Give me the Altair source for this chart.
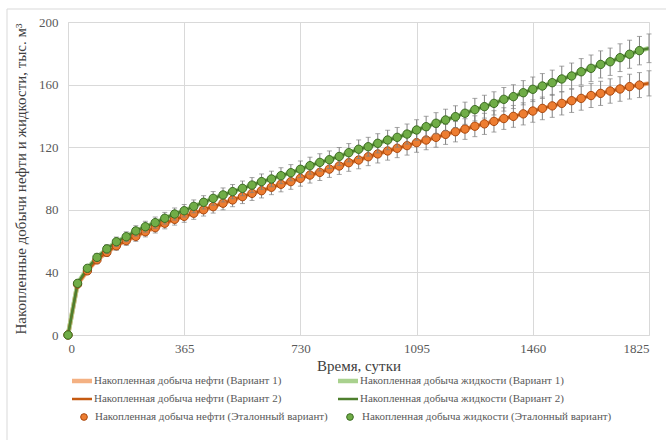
import altair as alt
import pandas as pd

# ---- data ----
days = [0, 30, 61, 91, 122, 152, 183, 213, 243, 274, 304, 335, 365, 395, 426, 456,
        487, 517, 548, 578, 608, 639, 669, 700, 730, 760, 791, 821, 852, 882, 913,
        943, 973, 1004, 1034, 1065, 1095, 1125, 1156, 1186, 1217, 1247, 1278, 1308,
        1338, 1369, 1399, 1430, 1460, 1490, 1521, 1551, 1582, 1612, 1643, 1673, 1703,
        1734, 1764, 1795, 1825]

oil = [0, 32.5, 41.0, 48.0, 52.8, 57.0, 60.3, 63.0, 66.0, 68.6, 71.4, 73.9, 75.8,
       77.8, 80.0, 82.0, 84.2, 86.3, 88.4, 90.5, 92.2, 94.4, 96.3, 98.0, 100.1,
       102.2, 103.9, 106.0, 108.0, 110.1, 111.8, 113.9, 115.7, 117.6, 119.3, 121.0,
       122.9, 124.6, 126.3, 128.2, 129.9, 131.6, 133.4, 134.9, 136.5, 138.3, 139.7,
       141.3, 143.1, 144.8, 146.4, 148.0, 149.7, 151.2, 153.0, 154.4, 155.9, 157.2,
       158.7, 159.7, 160.8]

liq = [0, 33.0, 42.6, 49.6, 55.0, 59.6, 62.8, 66.5, 69.2, 71.8, 74.6, 77.3, 79.4,
       82.2, 84.8, 87.3, 89.5, 91.6, 93.7, 95.8, 98.0, 99.7, 101.8, 103.7, 105.9,
       108.2, 110.3, 112.0, 114.1, 116.5, 118.7, 120.3, 122.5, 124.6, 126.3, 128.4,
       131.0, 133.1, 135.3, 137.4, 139.5, 141.7, 144.0, 145.9, 148.0, 150.6, 152.3,
       154.8, 157.0, 159.1, 161.2, 163.6, 165.5, 168.2, 170.4, 172.9, 174.6, 177.2,
       179.4, 181.7, 183.2]

err_pct = 5  # percentage error bars

x_ticks = [0, 365, 730, 1095, 1460, 1825]
y_ticks = [0, 40, 80, 120, 160, 200]

legend_labels = [
    "Накопленная добыча нефти (Вариант 1)",
    "Накопленная добыча жидкости (Вариант 1)",
    "Накопленная добыча нефти (Вариант 2)",
    "Накопленная добыча жидкости (Вариант 2)",
    "Накопленная добыча нефти (Эталонный вариант)",
    "Накопленная добыча жидкости (Эталонный вариант)",
]

x_title = "Время, сутки"
y_title = "Накопленные добычи нефти и жидкости, тыс. м³"

# ---- styles ----
C_OIL1 = "#F4B183"
C_LIQ1 = "#A9D18E"
C_OIL2 = "#C55A11"
C_LIQ2 = "#4E7F2E"
C_OIL_M = "#ED7D31"
C_OIL_E = "#A9480F"
C_LIQ_M = "#70AD47"
C_LIQ_E = "#3B6B22"
C_ERR = "#808080"
FONT = "Times New Roman, Liberation Serif, DejaVu Serif, serif"

df = pd.DataFrame({"day": days, "oil": oil, "liq": liq})
df["oil_lo"] = df["oil"] * (1 - err_pct / 100)
df["oil_hi"] = df["oil"] * (1 + err_pct / 100)
df["liq_lo"] = df["liq"] * (1 - err_pct / 100)
df["liq_hi"] = df["liq"] * (1 + err_pct / 100)

W, H = 581, 313

xs = alt.Scale(domain=[0, 1825], nice=False, zero=False)
ys = alt.Scale(domain=[0, 200], nice=False)

x_enc = alt.X("day:Q", scale=xs, axis=alt.Axis(
    values=x_ticks, format="d", title=x_title, grid=True, domain=False, ticks=False,
    labelPadding=7, titlePadding=3, labelFontSize=13, titleFontSize=15,
    labelColor="#595959", titleColor="#404040", labelFont=FONT, titleFont=FONT,
    titleFontWeight="normal", gridColor="#D9D9D9"))


def yenc(field):
    return alt.Y(field, scale=ys, axis=alt.Axis(
        values=y_ticks, format="d", title=y_title, grid=True, domain=False, ticks=False,
        labelPadding=10, titlePadding=10, labelFontSize=13, titleFontSize=15,
        labelColor="#595959", titleColor="#404040", labelFont=FONT, titleFont=FONT,
        titleFontWeight="normal", gridColor="#D9D9D9"))


base = alt.Chart(df)

line_oil1 = base.mark_line(color=C_OIL1, strokeWidth=4.5).encode(x=x_enc, y=yenc("oil:Q"))
line_liq1 = base.mark_line(color=C_LIQ1, strokeWidth=4.5).encode(x=x_enc, y=yenc("liq:Q"))
line_oil2 = base.mark_line(color=C_OIL2, strokeWidth=2.5).encode(x=x_enc, y=yenc("oil:Q"))
line_liq2 = base.mark_line(color=C_LIQ2, strokeWidth=2.5).encode(x=x_enc, y=yenc("liq:Q"))

errbase = base.transform_filter("datum.day > 0")
err_oil = errbase.mark_rule(color=C_ERR, strokeWidth=1).encode(
    x=x_enc, y=yenc("oil_lo:Q"), y2="oil_hi:Q")
cap_oil_lo = errbase.mark_tick(color=C_ERR, orient="horizontal", size=5, thickness=1).encode(
    x=x_enc, y=yenc("oil_lo:Q"))
cap_oil_hi = errbase.mark_tick(color=C_ERR, orient="horizontal", size=5, thickness=1).encode(
    x=x_enc, y=yenc("oil_hi:Q"))
err_liq = errbase.mark_rule(color=C_ERR, strokeWidth=1).encode(
    x=x_enc, y=yenc("liq_lo:Q"), y2="liq_hi:Q")
cap_liq_lo = errbase.mark_tick(color=C_ERR, orient="horizontal", size=5, thickness=1).encode(
    x=x_enc, y=yenc("liq_lo:Q"))
cap_liq_hi = errbase.mark_tick(color=C_ERR, orient="horizontal", size=5, thickness=1).encode(
    x=x_enc, y=yenc("liq_hi:Q"))

mbase = base.transform_filter("datum.day < 1825")
pts_oil = mbase.mark_point(filled=True, size=70, color=C_OIL_M, stroke=C_OIL_E,
                           strokeWidth=1, opacity=1, shape="circle").encode(x=x_enc, y=yenc("oil:Q"))
pts_liq = mbase.mark_point(filled=True, size=70, color=C_LIQ_M, stroke=C_LIQ_E,
                           strokeWidth=1, opacity=1, shape="circle").encode(x=x_enc, y=yenc("liq:Q"))

# ---- manual legend below the plot ----
one = alt.Chart(pd.DataFrame({"k": [0]}))
row_y = [359, 377, 395]
col_line = [(4, 24, 26), (270, 290, 292)]
leg_layers = []
line_styles = [(C_OIL1, 4.5), (C_LIQ1, 4.5), (C_OIL2, 2.5), (C_LIQ2, 2.5)]
LEG_FS = 11
for i in range(4):
    r, c = divmod(i, 2)
    x0, x1, tx = col_line[c]
    col, sw = line_styles[i]
    leg_layers.append(one.mark_rule(color=col, strokeWidth=sw).encode(
        x=alt.value(x0), x2=alt.value(x1), y=alt.value(row_y[r])))
    leg_layers.append(one.mark_text(align="left", baseline="middle", font=FONT, fontSize=LEG_FS,
                                    color="#595959").encode(
        x=alt.value(tx), y=alt.value(row_y[r]), text=alt.value(legend_labels[i])))
for c, (cx, tx, fc, ec) in enumerate([(16, 27, C_OIL_M, C_OIL_E), (282, 294, C_LIQ_M, C_LIQ_E)]):
    leg_layers.append(one.mark_point(filled=True, size=45, color=fc, stroke=ec, strokeWidth=1,
                                     opacity=1, shape="circle").encode(
        x=alt.value(cx), y=alt.value(row_y[2])))
    leg_layers.append(one.mark_text(align="left", baseline="middle", font=FONT, fontSize=LEG_FS,
                                    color="#595959").encode(
        x=alt.value(tx), y=alt.value(row_y[2]), text=alt.value(legend_labels[4 + c])))

frame = one.mark_rect(fill=None, stroke="#D9D9D9", strokeWidth=1).encode(
    x=alt.value(-61), x2=alt.value(W + 60), y=alt.value(-13), y2=alt.value(H + 140))

chart = alt.layer(
    frame,
    line_oil1, line_liq1, line_oil2, line_liq2,
    err_oil, cap_oil_lo, cap_oil_hi, pts_oil,
    err_liq, cap_liq_lo, cap_liq_hi, pts_liq,
    *leg_layers,
).properties(
    width=W, height=H,
    padding={"left": 68, "top": 22, "right": 17, "bottom": 105},
    autosize=alt.AutoSizeParams(type="none"),
).configure_view(stroke=None).configure(background="white", font=FONT)

chart.save("out.html", embed_options={"renderer": "svg", "actions": False})
